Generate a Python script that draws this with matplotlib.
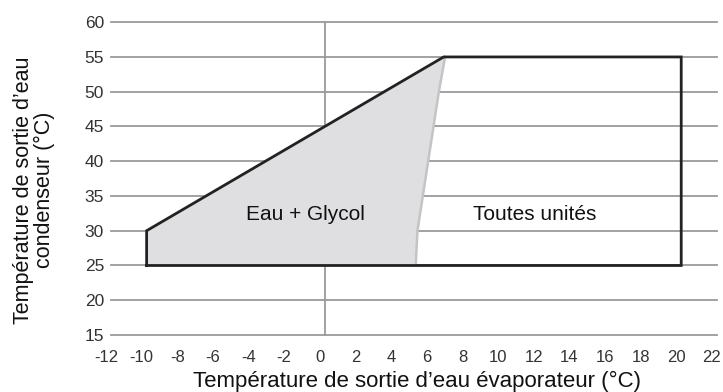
import matplotlib
matplotlib.use('Agg')
import matplotlib.pyplot as plt
from matplotlib.transforms import ScaledTranslation

# envelope of operation (evaporator outlet vs condenser outlet temperature)
env_x = [-10, -10, 6.67, 20, 20, -10]
env_y = [25, 30, 55, 55, 25, 25]

# right edge of the glycol-only zone
glycol_x = [5.1, 5.2, 5.5, 5.8, 6.1, 6.4, 6.75]
glycol_y = [25, 30, 35, 40, 45, 50, 55]

x_ticks = list(range(-12, 23, 2))
y_ticks = list(range(15, 61, 5))

plt.rcParams['font.family'] = ['Liberation Sans', 'DejaVu Sans']

fig = plt.figure(figsize=(7.23, 3.92), dpi=100)
ax = fig.add_axes([0.1535, 0.1454, 0.838, 0.798])
ax.set_xlim(-12, 22)
ax.set_ylim(15, 60)

for s in ax.spines.values():
    s.set_visible(False)

for y in y_ticks:
    ax.plot([-12, 22], [y, y], color='#9a9a9a', lw=1.3, zorder=1, clip_on=False)
ax.plot([0, 0], [15, 60], color='#9a9a9a', lw=1.3, zorder=1, clip_on=False)

# glycol zone: left part of the envelope up to the curved boundary
fill_x = [-10, -10, 6.67] + glycol_x[::-1] + [-10]
fill_y = [25, 30, 55] + glycol_y[::-1] + [25]
ax.fill(fill_x, fill_y, color='#dfdfe1', zorder=2, lw=0)
ax.plot(glycol_x, glycol_y, color='#c4c4c6', lw=1.8, zorder=2.5)

ax.plot(env_x, env_y, color='#222222', lw=2.0, zorder=3,
        solid_joinstyle='miter', clip_on=False)

ax.text(-1.1, 32.3, 'Eau + Glycol', ha='center', va='center', fontsize=15, color='#111111')
ax.text(11.8, 32.3, 'Toutes unités', ha='center', va='center', fontsize=15, color='#111111')

ax.set_xticks(x_ticks)
ax.set_yticks(y_ticks)
ax.set_xticklabels([str(v) for v in x_ticks], fontsize=12, color='#333333')
ax.set_yticklabels([str(v) for v in y_ticks], fontsize=12.5, color='#333333')
ax.tick_params(axis='x', length=0, pad=11)
ax.tick_params(axis='y', length=0, pad=5)

# x labels sit a little left of their grid positions
shift = ScaledTranslation(-5 / 100, 0, fig.dpi_scale_trans)
for lab in ax.get_xticklabels():
    lab.set_transform(lab.get_transform() + shift)

fig.text(417 / 723, 1 - 381 / 392, 'Température de sortie d’eau évaporateur (°C)',
         ha='center', va='center', fontsize=16, color='#111111')
fig.text(34 / 723, 1 - 190 / 392, 'Température de sortie d’eau\ncondenseur (°C)',
         ha='center', va='center', rotation=90, multialignment='center',
         linespacing=1.05, fontsize=15.5, color='#111111')

fig.savefig('out.png', dpi=100)
